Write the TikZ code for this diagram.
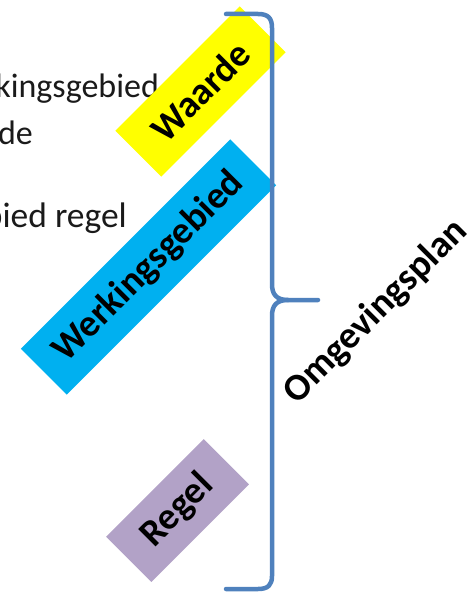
\documentclass[tikz,border=0pt]{standalone}
\usepackage{fontspec}
\setmainfont{Carlito}
\definecolor{yel}{HTML}{FFFF00}
\definecolor{sky}{HTML}{00B0F0}
\definecolor{lav}{HTML}{B2A2C7}
\definecolor{brc}{HTML}{4F81BD}
\definecolor{ink}{HTML}{1A1A1A}
\begin{document}
\begin{tikzpicture}[x=1pt,y=-1pt,
  bg/.style={font=\fontsize{34}{40}\selectfont, text=ink, inner sep=0},
  card/.style={rotate=45, inner sep=0, font=\fontsize{38}{44}\selectfont\bfseries, text=black},
  brace/.style={draw=brc, line width=4.5pt, line cap=round, line join=round}]
\useasboundingbox (0,0) rectangle (469,596);
\clip (0,0) rectangle (469,596);
\node[bg, anchor=base east] (t1) at (159,98) {Werkingsgebied};
\node[bg, anchor=base east] (t2) at (33,145) {Waarde};
\node[bg, anchor=base east, font=\fontsize{35.5}{42}\selectfont] (t3) at (127,227) {Werkingsgebied\ regel};
\node[card, fill=yel, minimum width=176pt, minimum height=65pt] (waarde) at (200.5,91.5) {Waarde\hspace{22pt}};
\node[card, fill=sky, minimum width=296pt, minimum height=65pt] (werk) at (148.5,267) {Werkingsgebied};
\node[card, fill=lav, minimum width=138pt, minimum height=64pt] (regel) at (177.5,510.5) {Regel\hspace{20pt}};
\node[card] (plan) at (376,312) {Omgevingsplan};
\coordinate (btop) at (226,14);
\coordinate (btip) at (318,300);
\coordinate (bbot) at (226,589);
\draw[brace] (btop) -- (258,14) .. controls (268,14) and (272,18) .. (272,28) -- (272,284) .. controls (272,294) and (276,300) .. (288,300) -- (btip);
\draw[brace] (288,300) .. controls (276,300) and (272,306) .. (272,316) -- (272,576) .. controls (272,585) and (268,589) .. (258,589) -- (bbot);
\end{tikzpicture}
\end{document}
